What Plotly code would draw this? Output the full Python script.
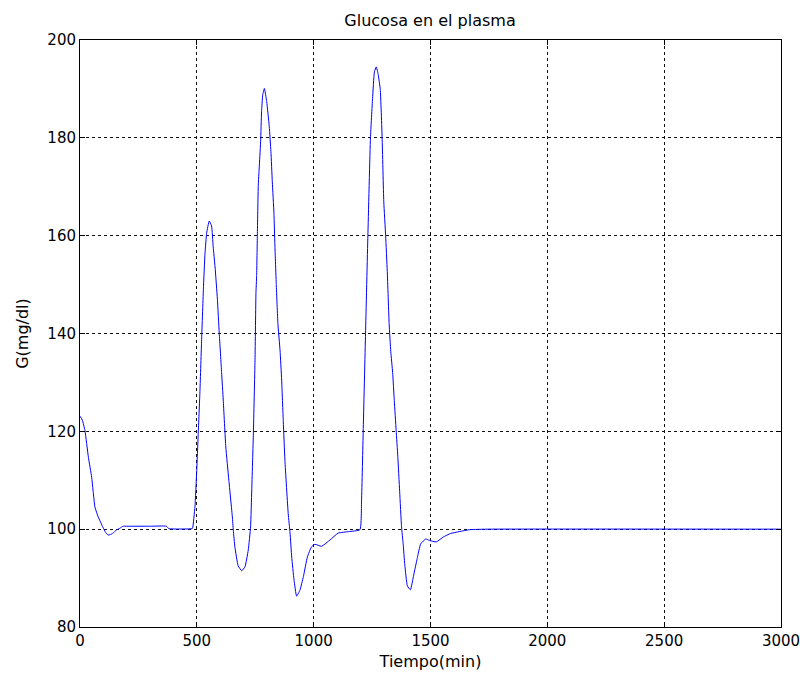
import plotly.graph_objects as go

# Time (min) and plasma glucose (mg/dl)
tiempo = [0, 10, 21, 36, 50, 64, 78, 98, 110, 120, 130, 141, 155, 171, 184, 200, 300, 370, 380, 480,
          482, 492, 499, 506, 513, 520, 528, 535, 542, 553, 563, 570, 578, 588, 596, 606, 613, 624,
          637, 652, 656, 663, 677, 692, 706, 720, 730, 735, 742, 749, 753, 756, 759, 763, 773, 777,
          782, 789, 799, 810, 817, 823, 830, 834, 840, 847, 856, 863, 870, 877, 891, 899, 906, 916,
          927, 941, 956, 973, 991, 1006, 1034, 1070, 1105, 1150, 1198, 1205, 1212, 1222, 1232,
          1243, 1252, 1260, 1268, 1276, 1285, 1293, 1300, 1308, 1315, 1323, 1330, 1338, 1345,
          1353, 1360, 1368, 1376, 1383, 1390, 1401, 1414, 1428, 1443, 1458, 1480, 1495, 1525,
          1555, 1585, 1623, 1668, 1750, 3000]
glucosa = [123.1, 122.3, 120.2, 114.7, 110.6, 104.5, 102.5, 100.4, 99.3, 98.8, 98.9, 99.2, 99.8, 100.2,
           100.6, 100.6, 100.6, 100.6, 100.1, 100.1,
           100.2, 104.6, 111.4, 119.6, 127.8, 138.0, 149.0, 156.4, 160.5, 163.0, 162.0, 157.7, 153.6,
           147.0, 140.0, 132.0, 126.4, 116.8,
           110.0, 102.5, 99.8, 96.3, 92.5, 91.5, 92.3, 95.7, 100.5, 108.0, 119.6, 134.6, 148.2, 151.9,
           160.1, 170.3, 179.2, 185.3,
           188.8, 190.1, 187.4, 182.3, 177.2, 171.0, 164.6, 158.1, 150.0, 142.0, 136.6, 130.5, 122.0,
           114.0, 103.2, 99.2, 94.3, 89.6,
           86.3, 87.5, 90.3, 94.3, 96.4, 96.9, 96.5, 97.8, 99.2, 99.5, 99.9, 106.0, 120.0, 140.0, 160.0,
           180.0, 188.0, 193.5, 194.5, 193.0, 189.9, 180.0, 167.0, 160.0, 152.7, 142.0, 136.3, 132.0,
           126.3,
           120.2, 114.9, 107.7, 100.5, 97.0, 92.7, 88.4, 87.6, 90.6, 94.0, 97.0, 98.0, 97.7, 97.4,
           98.4, 99.1, 99.5, 99.9, 100.0, 100.0]

x_ticks = [0, 500, 1000, 1500, 2000, 2500, 3000]
y_ticks = [80, 100, 120, 140, 160, 180, 200]

titulo = "Glucosa en el plasma"
x_titulo = "Tiempo(min)"
y_titulo = "G(mg/dl)"

font_family = "DejaVu Sans, Arial, sans-serif"

fig = go.Figure()
fig.add_trace(go.Scatter(x=tiempo, y=glucosa, mode="lines",
                         line=dict(color="#0000ff", width=1, shape="spline", smoothing=0.4),
                         showlegend=False))

axis_common = dict(
    showline=True, linecolor="black", linewidth=1, mirror="ticks",
    ticks="inside", ticklen=5, tickcolor="black", tickwidth=1,
    showgrid=True, gridcolor="#111111", gridwidth=1, griddash="dot",
    zeroline=False, automargin=False, ticklabeloverflow="allow",
    tickfont=dict(family=font_family, size=15, color="black"),
)

fig.update_layout(
    width=800, height=673,
    paper_bgcolor="white", plot_bgcolor="white",
    margin=dict(l=80, r=19, t=40, b=46),
    title=dict(text=titulo, x=0.5375, xanchor="center", y=1 - 20 / 673, yanchor="middle",
               font=dict(family=font_family, size=16, color="black")),
    xaxis=dict(range=[0, 3000], tickmode="array", tickvals=x_ticks,
               ticktext=[str(v) for v in x_ticks],
               title=dict(text=x_titulo, standoff=6,
                          font=dict(family=font_family, size=16, color="black")),
               **axis_common),
    yaxis=dict(range=[80, 200], tickmode="array", tickvals=y_ticks,
               ticktext=[str(v) for v in y_ticks],
               title=dict(text=y_titulo, standoff=14,
                          font=dict(family=font_family, size=16, color="black")),
               **axis_common),
)

fig.write_html("out.html")
